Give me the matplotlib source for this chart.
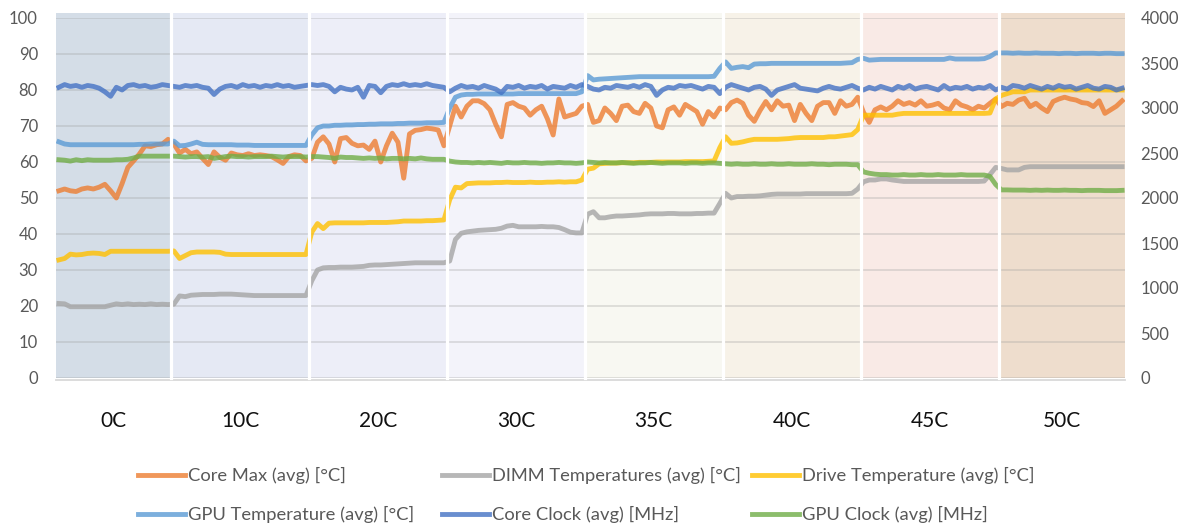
import numpy as np
import matplotlib
matplotlib.use("Agg")
import matplotlib.pyplot as plt
from matplotlib.transforms import blended_transform_factory

# ---------------------------------------------------------------------------
# Data: one list per ambient-temperature step for every logged channel
# ---------------------------------------------------------------------------
categories = ["0C", "10C", "20C", "30C", "35C", "40C", "45C", "50C"]

band_colors = ["#D4DDE7", "#E5E9F4", "#EDEEF8", "#F3F3FA",
               "#F8F8F2", "#F7F2E8", "#F9EAE6", "#EEDDCD"]

# Core Max (avg) [°C]
core_max = [
    [52.0, 52.5, 52.0, 51.8, 52.5, 52.8, 52.5, 53.0, 53.8, 52.0,
     50.0, 54.0, 58.5, 60.3, 62.2, 64.5, 64.3, 64.8, 65.0, 66.3],
    [65.0, 62.5, 63.5, 62.3, 62.8, 61.0, 59.3, 62.8, 61.3, 60.5, 62.5, 62.0,
     61.8, 62.3, 61.8, 62.0, 61.8, 61.5, 60.6, 59.6, 61.5, 62.0, 61.8, 60.3],
    [61.0, 65.5, 67.0, 65.0, 60.0, 66.5, 66.8, 65.2, 64.5, 64.7, 63.5, 65.8,
     60.0, 64.5, 68.0, 65.5, 55.5, 67.8, 68.8, 69.0, 69.4, 69.2, 68.9, 64.5],
    [70.0, 75.5, 72.5, 75.5, 77.0, 77.0, 76.2, 74.5, 70.5, 67.0, 76.0, 76.5,
     75.5, 75.0, 73.0, 74.5, 75.5, 72.0, 67.5, 77.5, 72.5, 73.0, 73.5, 75.5],
    [76.0, 71.0, 71.5, 75.0, 73.5, 71.5, 75.5, 75.8, 74.0, 73.5, 76.3, 75.0,
     70.0, 69.5, 74.5, 75.3, 73.0, 76.0, 75.0, 74.0, 70.5, 74.0, 72.5, 75.0],
    [74.5, 76.5, 77.2, 76.3, 73.0, 71.3, 74.3, 76.8, 74.5, 77.0, 75.5, 75.8,
     71.5, 76.0, 73.5, 71.5, 75.5, 76.5, 76.5, 73.5, 77.0, 75.5, 76.0, 78.0],
    [73.8, 71.0, 74.5, 75.3, 74.5, 75.5, 77.0, 76.0, 76.5, 75.8, 77.0, 75.5,
     75.8, 76.3, 75.0, 74.5, 77.0, 75.8, 75.3, 74.5, 75.5, 75.0, 76.3, 77.5],
    [75.4, 76.3, 76.0, 77.2, 77.7, 75.4, 76.3, 75.0, 74.0, 76.8, 77.5,
     78.0, 77.5, 77.2, 76.5, 76.3, 75.4, 77.0, 73.5, 74.5, 75.5, 77.0],
]

# DIMM Temperatures (avg) [°C]
dimm_temp = [
    [20.7, 20.6, 19.8, 19.8, 19.8, 19.8, 19.8, 19.8, 19.8, 20.2,
     20.6, 20.4, 20.6, 20.4, 20.5, 20.4, 20.6, 20.4, 20.5, 20.4],
    [20.5, 22.8, 22.6, 23.0, 23.1, 23.2, 23.2, 23.2, 23.3, 23.3, 23.3, 23.2,
     23.1, 23.0, 22.9, 22.9, 22.9, 22.9, 22.9, 22.9, 22.9, 22.9, 22.9, 22.9],
    [27.0, 30.0, 30.6, 30.7, 30.7, 30.8, 30.8, 30.8, 30.9, 31.0, 31.3, 31.4,
     31.4, 31.5, 31.6, 31.7, 31.8, 31.9, 32.0, 32.0, 32.0, 32.0, 32.0, 32.0],
    [32.5, 38.5, 40.2, 40.6, 40.8, 41.0, 41.1, 41.2, 41.3, 41.6, 42.2, 42.4,
     42.0, 42.0, 42.0, 42.0, 42.1, 42.0, 42.0, 41.8, 41.2, 40.5, 40.3, 40.3],
    [45.5, 46.2, 44.5, 44.5, 44.8, 45.0, 45.0, 45.1, 45.2, 45.3, 45.5, 45.6,
     45.6, 45.6, 45.7, 45.7, 45.6, 45.6, 45.6, 45.7, 45.7, 45.8, 45.8, 48.5],
    [51.3, 50.0, 50.4, 50.4, 50.5, 50.5, 50.6, 50.8, 51.0, 51.1, 51.1, 51.1,
     51.1, 51.1, 51.2, 51.2, 51.2, 51.2, 51.2, 51.2, 51.2, 51.2, 51.3, 52.5],
    [54.5, 55.0, 55.0, 55.3, 55.3, 55.0, 54.8, 54.6, 54.6, 54.6, 54.6, 54.6,
     54.6, 54.6, 54.6, 54.6, 54.6, 54.6, 54.6, 54.6, 54.6, 54.7, 56.5, 58.5],
    [58.2, 57.8, 57.8, 57.8, 58.5, 58.7, 58.7, 58.7, 58.7, 58.7, 58.7,
     58.7, 58.7, 58.7, 58.7, 58.7, 58.7, 58.7, 58.7, 58.7, 58.7, 58.7],
]

# Drive Temperature (avg) [°C]
drive_temp = [
    [32.8, 33.2, 34.4, 34.2, 34.3, 34.6, 34.7, 34.6, 34.3, 35.2,
     35.2, 35.2, 35.2, 35.2, 35.2, 35.2, 35.2, 35.2, 35.2, 35.2],
    [35.3, 33.2, 34.0, 34.8, 35.0, 35.0, 35.0, 35.0, 34.9, 34.4, 34.3, 34.3,
     34.3, 34.3, 34.3, 34.3, 34.3, 34.3, 34.3, 34.3, 34.3, 34.3, 34.3, 34.3],
    [40.5, 42.9, 41.5, 43.0, 43.1, 43.1, 43.1, 43.1, 43.1, 43.1, 43.2, 43.2,
     43.2, 43.2, 43.3, 43.4, 43.6, 43.6, 43.6, 43.6, 43.7, 43.7, 43.8, 43.9],
    [49.5, 53.0, 52.8, 54.0, 54.1, 54.2, 54.2, 54.2, 54.3, 54.3, 54.4, 54.3,
     54.3, 54.3, 54.4, 54.3, 54.3, 54.4, 54.4, 54.5, 54.4, 54.5, 54.5, 55.0],
    [58.0, 58.3, 59.5, 59.6, 59.7, 59.7, 59.8, 59.8, 59.8, 59.9, 59.9, 59.9,
     60.0, 60.0, 60.0, 60.0, 60.0, 60.1, 60.1, 60.1, 60.1, 60.2, 60.3, 64.0],
    [67.0, 65.2, 65.3, 65.6, 66.0, 66.3, 66.3, 66.3, 66.3, 66.3, 66.4, 66.5,
     66.7, 66.8, 66.8, 66.8, 66.8, 66.8, 67.0, 67.0, 67.2, 67.4, 67.6, 69.0],
    [73.0, 73.0, 73.0, 73.0, 73.0, 73.0, 73.3, 73.5, 73.5, 73.5, 73.5, 73.5,
     73.5, 73.5, 73.5, 73.5, 73.5, 73.5, 73.5, 73.5, 73.5, 73.5, 73.6, 77.5],
    [78.5, 79.0, 79.5, 79.5, 79.5, 80.0, 80.0, 80.0, 80.0, 80.0, 80.0,
     80.0, 80.0, 80.0, 80.0, 80.0, 80.0, 80.0, 80.0, 80.0, 80.0, 80.0],
]

# GPU Temperature (avg) [°C]
gpu_temp = [
    [65.6, 65.0, 64.8, 64.8, 64.8, 64.8, 64.8, 64.8, 64.8, 64.8,
     64.8, 64.8, 64.8, 64.8, 64.9, 64.9, 65.0, 65.0, 65.0, 65.0],
    [65.8, 64.5, 64.6, 65.0, 65.5, 64.9, 64.8, 64.8, 64.8, 64.8, 64.8, 64.7,
     64.7, 64.7, 64.6, 64.6, 64.6, 64.6, 64.6, 64.6, 64.6, 64.6, 64.6, 64.6],
    [67.5, 69.5, 70.0, 70.0, 70.2, 70.2, 70.3, 70.3, 70.4, 70.4, 70.5, 70.5,
     70.6, 70.6, 70.6, 70.7, 70.7, 70.8, 70.8, 70.8, 70.9, 70.9, 70.9, 71.0],
    [75.0, 78.0, 78.6, 78.8, 78.8, 78.9, 78.9, 78.9, 78.9, 78.9, 78.9, 78.9,
     79.0, 79.0, 79.0, 79.0, 79.0, 79.0, 79.0, 79.0, 79.0, 79.0, 79.0, 79.5],
    [84.0, 82.8, 83.0, 83.1, 83.2, 83.3, 83.4, 83.5, 83.6, 83.7, 83.7, 83.7,
     83.7, 83.7, 83.7, 83.7, 83.7, 83.7, 83.7, 83.7, 83.7, 83.7, 83.8, 86.0],
    [87.8, 86.0, 86.3, 86.5, 86.2, 87.2, 87.3, 87.3, 87.4, 87.4, 87.4, 87.4,
     87.4, 87.4, 87.4, 87.4, 87.4, 87.4, 87.4, 87.4, 87.4, 87.5, 87.6, 88.5],
    [88.8, 88.3, 88.4, 88.5, 88.5, 88.5, 88.5, 88.5, 88.5, 88.5, 88.5, 88.5,
     88.5, 88.5, 88.5, 88.9, 88.6, 88.6, 88.6, 88.6, 88.6, 88.7, 89.3, 90.3],
    [90.3, 90.3, 90.2, 90.3, 90.2, 90.2, 90.3, 90.2, 90.2, 90.2, 90.1,
     90.2, 90.2, 90.1, 90.2, 90.2, 90.2, 90.1, 90.2, 90.2, 90.1, 90.1],
]

# Core Clock (avg) [MHz]
core_clock = [
    [3230, 3260, 3240, 3250, 3230, 3250, 3240, 3220, 3180, 3130,
     3230, 3200, 3250, 3260, 3240, 3250, 3230, 3240, 3260, 3250],
    [3240, 3230, 3250, 3240, 3250, 3230, 3220, 3150, 3210, 3240, 3250, 3230,
     3260, 3240, 3250, 3230, 3250, 3240, 3260, 3240, 3250, 3230, 3240, 3250],
    [3260, 3250, 3260, 3240, 3180, 3230, 3210, 3200, 3230, 3120, 3250, 3240,
     3170, 3240, 3260, 3250, 3270, 3250, 3260, 3250, 3270, 3250, 3240, 3230],
    [3180, 3220, 3250, 3230, 3240, 3220, 3250, 3230, 3210, 3170, 3240, 3230,
     3250, 3220, 3240, 3230, 3250, 3210, 3240, 3230, 3220, 3250, 3230, 3260],
    [3240, 3210, 3200, 3230, 3220, 3250, 3240, 3230, 3250, 3230, 3260, 3240,
     3140, 3200, 3230, 3220, 3250, 3240, 3250, 3230, 3210, 3240, 3230, 3160],
    [3230, 3260, 3240, 3220, 3200, 3230, 3240, 3210, 3140, 3200, 3220, 3240,
     3260, 3220, 3210, 3200, 3190, 3220, 3240, 3220, 3210, 3230, 3250, 3220],
    [3200, 3230, 3210, 3240, 3220, 3200, 3240, 3220, 3250, 3210, 3230, 3240,
     3220, 3200, 3250, 3210, 3230, 3220, 3240, 3210, 3230, 3220, 3250, 3200],
    [3230, 3210, 3250, 3240, 3220, 3250, 3230, 3210, 3240, 3220, 3250,
     3230, 3240, 3210, 3230, 3250, 3220, 3210, 3240, 3230, 3200, 3220],
]

# GPU Clock (avg) [MHz]
gpu_clock = [
    [2425, 2420, 2410, 2425, 2415, 2425, 2420, 2420, 2420, 2420,
     2425, 2425, 2430, 2445, 2465, 2465, 2465, 2465, 2465, 2465],
    [2465, 2460, 2455, 2460, 2460, 2455, 2460, 2440, 2450, 2460, 2465, 2460,
     2460, 2455, 2460, 2460, 2460, 2465, 2460, 2455, 2460, 2460, 2460, 2455],
    [2460, 2460, 2455, 2450, 2440, 2455, 2450, 2450, 2445, 2440, 2445, 2440,
     2445, 2435, 2440, 2440, 2435, 2440, 2435, 2445, 2435, 2430, 2430, 2430],
    [2410, 2400, 2395, 2395, 2390, 2395, 2390, 2395, 2390, 2385, 2395, 2390,
     2390, 2395, 2390, 2390, 2385, 2390, 2390, 2395, 2390, 2390, 2385, 2390],
    [2400, 2395, 2390, 2395, 2390, 2390, 2395, 2390, 2385, 2390, 2390, 2395,
     2390, 2385, 2390, 2390, 2390, 2385, 2390, 2390, 2385, 2390, 2390, 2385],
    [2380, 2375, 2380, 2375, 2375, 2380, 2375, 2375, 2380, 2375, 2375, 2380,
     2375, 2375, 2375, 2380, 2375, 2375, 2370, 2375, 2375, 2375, 2370, 2370],
    [2290, 2275, 2265, 2260, 2260, 2255, 2255, 2260, 2255, 2255, 2260, 2255,
     2255, 2260, 2255, 2255, 2255, 2260, 2255, 2255, 2255, 2255, 2240, 2150],
    [2090, 2090, 2088, 2088, 2088, 2085, 2088, 2085, 2088, 2085, 2085,
     2088, 2085, 2085, 2082, 2085, 2085, 2085, 2082, 2082, 2082, 2085],
]

temp_ticks = list(range(0, 101, 10))
clock_ticks = list(range(0, 4001, 500))

# ---------------------------------------------------------------------------
plt.rcParams["font.family"] = ["Lato", "DejaVu Sans"]

seg_len = [len(s) for s in core_max]
offsets = np.concatenate([[0], np.cumsum(seg_len)])
x = np.arange(offsets[-1])


def flat(series):
    return np.concatenate([np.asarray(s, dtype=float) for s in series])


W, H = 1189, 527
fig = plt.figure(figsize=(W / 100, H / 100), dpi=100)
ax = fig.add_axes([56 / W, 149 / H, 1069 / W, 360 / H])
ax2 = ax.twinx()

ax.set_xlim(-0.5, offsets[-1] - 0.5)
ax.set_ylim(0, 100)
ax2.set_ylim(0, 4000)

# coloured background band for each temperature step
for k, col in enumerate(band_colors):
    ax.axvspan(offsets[k] - 0.5, offsets[k + 1] - 0.5, ymin=0, ymax=1.014,
               color=col, lw=0, zorder=0, clip_on=False)

ax.set_yticks(temp_ticks)
ax2.set_yticks(clock_ticks)
ax.set_xticks([])
ax.grid(axis="y", color="#A0A0A0", alpha=0.38, lw=1.1)
ax.set_axisbelow("line")

for a in (ax, ax2):
    for s in ("left", "right", "top", "bottom"):
        a.spines[s].set_visible(False)
ax.spines["bottom"].set_visible(True)
ax.spines["bottom"].set_color("#D9D9D9")
ax.spines["bottom"].set_linewidth(1.3)
ax.spines["bottom"].set_position(("outward", 1.5))

ax.tick_params(axis="y", length=0, labelsize=12, labelcolor="#595959", pad=13)
ax2.tick_params(axis="y", length=0, labelsize=12, labelcolor="#595959", pad=11)
ax.tick_params(axis="x", length=0)

lw = 3.5
alpha = 0.8
l_core_max, = ax.plot(x, flat(core_max), color="#ED7D31", lw=lw, alpha=alpha,
                      label="Core Max (avg) [°C]", solid_joinstyle="round")
l_dimm, = ax.plot(x, flat(dimm_temp), color="#A5A5A5", lw=lw, alpha=alpha,
                  label="DIMM Temperatures (avg) [°C]", solid_joinstyle="round")
l_drive, = ax.plot(x, flat(drive_temp), color="#FFC000", lw=lw, alpha=alpha,
                   label="Drive Temperature (avg) [°C]", solid_joinstyle="round")
l_gpu_t, = ax.plot(x, flat(gpu_temp), color="#5B9BD5", lw=lw, alpha=alpha,
                   label="GPU Temperature (avg) [°C]", solid_joinstyle="round")
l_core_c, = ax2.plot(x, flat(core_clock), color="#4472C4", lw=lw, alpha=alpha,
                     label="Core Clock (avg) [MHz]", solid_joinstyle="round")
l_gpu_c, = ax2.plot(x, flat(gpu_clock), color="#70AD47", lw=lw, alpha=alpha,
                    label="GPU Clock (avg) [MHz]", solid_joinstyle="round")

# white dividers between the temperature steps
for b in offsets[1:-1]:
    ax2.axvline(b - 0.5, ymin=0, ymax=1.014, color="white", lw=2.3,
                zorder=10, clip_on=False)

# step names under each band
trans = blended_transform_factory(ax.transData, ax.transAxes)
for k, cat in enumerate(categories):
    xc = (offsets[k] + offsets[k + 1]) / 2 - 0.5
    ax.text(xc, -0.12, cat, transform=trans, ha="center", va="center",
            fontsize=15, color="#111111")

# legend: three columns of two rows
columns = [(l_core_max, l_gpu_t), (l_dimm, l_core_c), (l_drive, l_gpu_c)]
col_x = [138, 442, 752]
for cx, handles in zip(col_x, columns):
    fig.legend(handles=list(handles), loc="upper left",
               bbox_to_anchor=(cx / W, (H - 467) / H), frameon=False,
               fontsize=13.2, labelcolor="#595959", handlelength=2.55,
               handletextpad=0.2, borderpad=0, borderaxespad=0,
               labelspacing=1.22)

fig.savefig("out.png", dpi=100)
